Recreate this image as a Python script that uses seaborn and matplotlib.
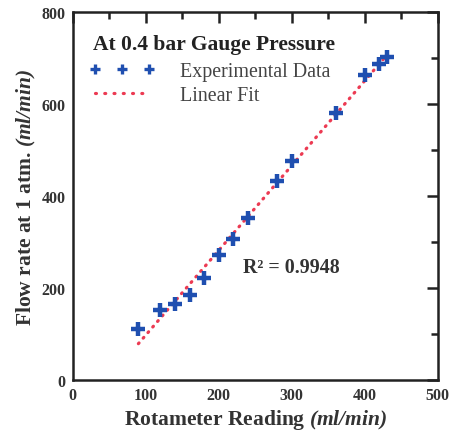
import numpy as np
import pandas as pd
import matplotlib
matplotlib.use("Agg")
import matplotlib.pyplot as plt
from matplotlib.lines import Line2D
from matplotlib.ticker import MultipleLocator
import seaborn as sns

# Rotameter calibration at 0.4 bar gauge pressure
rotameter_reading = [90, 120, 140, 160, 180, 200, 220, 240, 280, 300, 360, 400, 420, 430]
flow_rate = [112, 152, 165, 186, 222, 272, 307, 352, 433, 477, 580, 664, 688, 703]
r_squared_label = "R\u00b2 = 0.9948"

df = pd.DataFrame({"reading": rotameter_reading, "flow": flow_rate})

sns.set_theme(style="white")
plt.rcParams["font.family"] = ["Liberation Serif", "DejaVu Serif"]
plt.rcParams["mathtext.fontset"] = "custom"
plt.rcParams["mathtext.rm"] = "Liberation Serif"
plt.rcParams["mathtext.bf"] = "Liberation Serif:bold"
plt.rcParams["mathtext.it"] = "Liberation Serif:italic"
plt.rcParams["mathtext.bfit"] = "Liberation Serif:bold:italic"

blue = "#1f4fb0"
red = "#ec3a52"
dot_style = (0, (0.3, 2.0))

fig = plt.figure(figsize=(4.57, 4.39), dpi=100)
ax = fig.add_axes([0.159, 0.132, 0.799, 0.838])

# Linear fit through the measurements
sns.regplot(data=df, x="reading", y="flow", ax=ax, scatter=False, ci=None,
            truncate=True, label="Linear Fit",
            line_kws=dict(color=red, lw=2.3, linestyle=dot_style,
                          dash_capstyle="round", zorder=2))

# Measured points
ax.plot(df["reading"], df["flow"], linestyle="none", marker="+", ms=10,
        mew=3.2, color=blue, label="Experimental Data", zorder=3)

ax.set_xlim(0, 500)
ax.set_ylim(0, 800)
ax.xaxis.set_major_locator(MultipleLocator(100))
ax.xaxis.set_minor_locator(MultipleLocator(50))
ax.yaxis.set_major_locator(MultipleLocator(200))
ax.yaxis.set_minor_locator(MultipleLocator(100))
ax.tick_params(which="both", direction="in", top=True, right=True,
               width=1.8, color="#222222", labelsize=11.5, pad=5,
               labelcolor="#333333")
ax.tick_params(which="major", length=8)
ax.tick_params(which="minor", length=5)
for lab in ax.get_xticklabels() + ax.get_yticklabels():
    lab.set_fontweight("bold")
for sp in ax.spines.values():
    sp.set_linewidth(1.8)
    sp.set_color("#222222")

ax.set_xlabel(r"Rotameter Reading $\mathbfit{(ml/min)}$", fontsize=15.5,
              fontweight="bold", color="#333333", labelpad=3)
ax.set_ylabel(r"Flow rate at 1 atm. $\mathbfit{(ml/min)}$", fontsize=15.5,
              fontweight="bold", color="#333333", labelpad=3)

ax.text(233, 245, r_squared_label, fontsize=14.4, fontweight="bold",
        color="#333333", va="center", ha="left")

# Legend block: heading plus the two series entries
ax.text(0.055, 0.913, "At 0.4 bar Gauge Pressure", transform=ax.transAxes,
        fontsize=15.5, fontweight="bold", color="#222222",
        ha="left", va="center")
legend_handles = [
    Line2D([], [], linestyle="none", marker="+", ms=6.5, mew=2.4, color=blue),
    Line2D([], [], color=red, lw=2.3, linestyle=(0, (0.3, 2.6)),
           dash_capstyle="round"),
]
leg = ax.legend(legend_handles, ["Experimental Data", "Linear Fit"],
                loc="upper left", bbox_to_anchor=(0.022, 0.885),
                frameon=False, numpoints=3, handlelength=3.3, fontsize=14.4,
                borderaxespad=0.0, labelspacing=0.25, handletextpad=1.25)
for t in leg.get_texts():
    t.set_color("#444444")

fig.savefig("out.png", dpi=100)
